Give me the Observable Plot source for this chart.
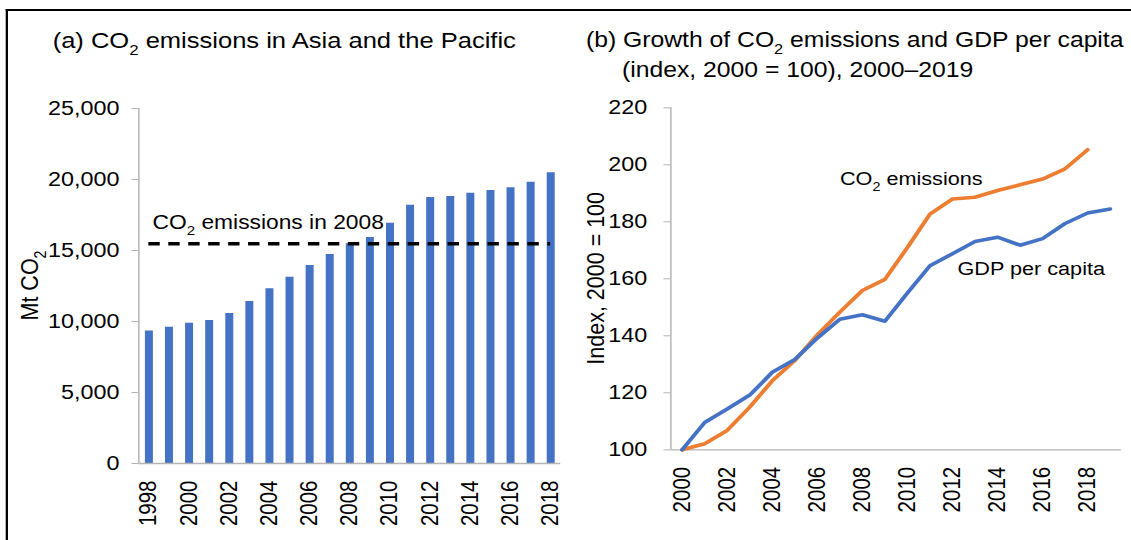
<!DOCTYPE html>
<html><head><meta charset="utf-8">
<script src="https://cdn.jsdelivr.net/npm/d3@7"></script>
<script src="https://cdn.jsdelivr.net/npm/@observablehq/plot@0.6"></script>
<style>
html,body{margin:0;padding:0;background:#fff;overflow:hidden;width:1131px;height:540px}
#wrap{position:absolute;left:0;top:0;width:992px;height:540px;transform:scaleX(1.14);transform-origin:0 0;font-family:"Liberation Sans",Arial,sans-serif}
#border{position:absolute;left:5px;top:9px;width:1100px;height:600px;border-top:2.2px solid #000;border-left:2px solid #000}
#left,#right,#overlay{position:absolute;top:0}
#left{left:0}#right{left:500px}#overlay{left:0}
g[aria-label="y-axis tick"]{stroke:#b3b3b3}
</style></head><body>
<div id="wrap"><div id="border"></div><div id="left"></div><div id="right"></div>
<svg id="overlay" width="992" height="540" xmlns="http://www.w3.org/2000/svg"></svg></div>
<script>
// ---- data ----
const barYears = [1998,1999,2000,2001,2002,2003,2004,2005,2006,2007,2008,2009,2010,2011,2012,2013,2014,2015,2016,2017,2018];
const barValues = [9330,9590,9880,10070,10570,11410,12300,13120,13950,14720,15470,15920,16920,18190,18740,18810,19040,19230,19420,19810,20480];
const emissions2008 = 15470;
const leftYTicks = [0,5000,10000,15000,20000,25000];
const leftXTicks = [1998,2000,2002,2004,2006,2008,2010,2012,2014,2016,2018];

const lineYears = [2000,2001,2002,2003,2004,2005,2006,2007,2008,2009,2010,2011,2012,2013,2014,2015,2016,2017,2018,2019];
const co2Index = [100,102.1,106.8,115,124.2,131.3,140.3,148.3,155.9,159.8,171,182.7,188,188.6,191,193,195,198.6,205.3];
const gdpIndex = [100,109.6,114.3,119.2,127.2,131.7,139.2,145.8,147.4,145.1,155,164.6,168.8,173.1,174.6,171.8,174.1,179.4,183.1,184.5];
const rightYTicks = [100,120,140,160,180,200,220];
const rightXTicks = [2000,2002,2004,2006,2008,2010,2012,2014,2016,2018];

const FONT = '"Liberation Sans", Arial, sans-serif';
const BLUE = "#4472c4", ORANGE = "#ed7d31", AXIS = "#b3b3b3";

const bars = barYears.map((year, i) => ({year, value: barValues[i]}));
const co2 = co2Index.map((v, i) => ({year: lineYears[i], v}));
const gdp = gdpIndex.map((v, i) => ({year: lineYears[i], v}));

function subscriptify(root) {
  root.querySelectorAll("text").forEach(t => {
    const s = t.textContent;
    const k = s.indexOf("CO2");
    if (k < 0 || t.querySelector("tspan")) return;
    const fs = parseFloat(getComputedStyle(t).fontSize) || 20;
    const sh = fs * 0.32;
    t.textContent = "";
    const mk = (txt, attrs) => {
      const e = document.createElementNS("http://www.w3.org/2000/svg", "tspan");
      e.textContent = txt;
      for (const a in attrs) e.setAttribute(a, attrs[a]);
      t.appendChild(e);
    };
    mk(s.slice(0, k + 2), {});
    mk("2", {dy: sh, "font-size": fs * 0.66});
    mk(s.slice(k + 3), {dy: -sh});
  });
}

const left = Plot.plot({
  width: 500, height: 540,
  marginLeft: 121.3, marginRight: 8.6, marginTop: 108, marginBottom: 77,
  style: {fontFamily: FONT, fontSize: "20.5px", color: "#000", background: "transparent", overflow: "visible"},
  x: {domain: [1997.5, 2018.5]},
  y: {domain: [0, 25000]},
  marks: [
    Plot.ruleX(bars, {x: "year", y1: 0, y2: "value", stroke: BLUE, strokeWidth: 7}),
    Plot.ruleY([0], {stroke: AXIS, strokeWidth: 1.3}),
    Plot.ruleX([1997.5], {stroke: AXIS, strokeWidth: 1.3}),
    Plot.ruleY([emissions2008], {x1: 1998, x2: 2018, stroke: "#000", strokeWidth: 3.5, strokeDasharray: "10,7.5"}),
    Plot.axisY({ticks: leftYTicks, tickSize: 6, tickPadding: 11, tickFormat: d3.format(","), label: null}),
    Plot.axisX({ticks: leftXTicks, tickSize: 0, tickPadding: 17, tickRotate: -90, tickFormat: d => String(d), label: null}),
    Plot.text([{x: 1998.18, y: 16549, t: "CO2 emissions in 2008"}], {x: "x", y: "y", text: "t", textAnchor: "start", lineAnchor: "bottom", fontSize: 20, fill: "#000"})
  ]
});
document.getElementById("left").appendChild(left);

const right = Plot.plot({
  width: 492, height: 540,
  marginLeft: 88, marginRight: 8.8, marginTop: 107.3, marginBottom: 90.7,
  style: {fontFamily: FONT, fontSize: "20.5px", color: "#000", background: "transparent", overflow: "visible"},
  x: {domain: [1999.5, 2019.5]},
  y: {domain: [100, 220]},
  marks: [
    Plot.ruleY([100], {stroke: AXIS, strokeWidth: 1.3}),
    Plot.ruleX([1999.5], {stroke: AXIS, strokeWidth: 1.3}),
    Plot.line(co2, {x: "year", y: "v", stroke: ORANGE, strokeWidth: 3.6}),
    Plot.line(gdp, {x: "year", y: "v", stroke: BLUE, strokeWidth: 3.6}),
    Plot.axisY({ticks: rightYTicks, tickSize: 6, tickPadding: 14.7, label: null}),
    Plot.axisX({ticks: rightXTicks, tickSize: 0, tickPadding: 17, tickRotate: -90, tickFormat: d => String(d), label: null}),
    Plot.text([{x: 2013.34, y: 193, t: "CO2 emissions"}], {x: "x", y: "y", text: "t", textAnchor: "end", lineAnchor: "bottom", fontSize: 19, fill: "#000"}),
    Plot.text([{x: 2012.22, y: 161.2, t: "GDP per capita"}], {x: "x", y: "y", text: "t", textAnchor: "start", lineAnchor: "bottom", fontSize: 19, fill: "#000"})
  ]
});
document.getElementById("right").appendChild(right);

subscriptify(left);
subscriptify(right);

// ---- titles and axis titles ----
const ov = d3.select("#overlay").style("font-family", FONT).attr("fill", "#000");
function addText(x, y, s, size, opts = {}) {
  const t = ov.append("text").attr("x", x).attr("y", y).attr("font-size", size);
  if (opts.rotate) t.attr("transform", `rotate(-90 ${x} ${y})`).attr("text-anchor", "middle");
  t.text(s);
  return t;
}
addText(46.2, 48.3, "(a) CO2 emissions in Asia and the Pacific", 22.4);
addText(514, 46.7, "(b) Growth of CO2 emissions and GDP per capita", 21.7);
addText(545.6, 76.7, "(index, 2000 = 100), 2000\u20132019", 21.7);
addText(33.3, 285.5, "Mt CO2", 21.5, {rotate: true});
addText(530, 278.3, "Index, 2000 = 100", 21.5, {rotate: true});
subscriptify(document.getElementById("overlay"));
</script>
</body></html>
